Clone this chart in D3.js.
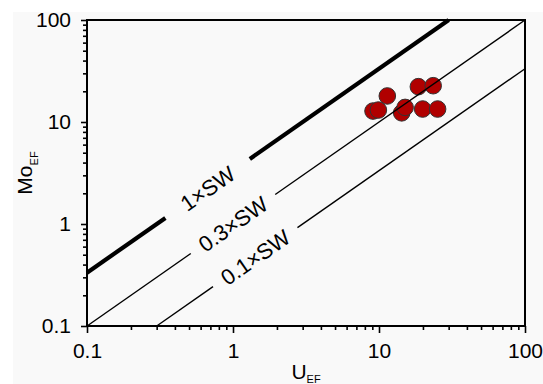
<!DOCTYPE html>
<html>
<head>
<meta charset="utf-8">
<script src="https://cdn.jsdelivr.net/npm/d3@7"></script>
<style>
  body { margin: 0; background: #fff; }
  svg { display: block; font-family: "Liberation Sans", Arial, sans-serif; }
</style>
</head>
<body>
<svg id="chart" width="543" height="384"></svg>
<script>
// ---------------- data ----------------
const uEF  = [9.1, 9.9, 11.4, 14.3, 15.1, 18.6, 23.5, 19.9, 25.2];
const moEF = [12.8, 13.1, 18.0, 12.3, 13.9, 22.2, 22.7, 13.4, 13.4];

// seawater Mo/U enrichment lines
const swRatio = 3.33;
const swNames = ["1×SW", "0.3×SW", "0.1×SW"];
const swFactors = [1, 0.3, 0.1];
const swLabelAt = [0.67, 1.0, 1.42];   // U_EF where the label sits

const tickValues = [0.1, 1, 10, 100];
const tickLabels = ["0.1", "1", "10", "100"];

// ---------------- layout ----------------
const svg = d3.select("#chart");
const m = { left: 87, right: 525, top: 20, bottom: 326 };

svg.append("rect")
  .attr("x", 13).attr("y", 12)
  .attr("width", 530).attr("height", 372)
  .attr("fill", "#f9f9f9");

const x = d3.scaleLog().domain([0.1, 100]).range([m.left, m.right]);
const y = d3.scaleLog().domain([0.1, 100]).range([m.bottom, m.top]);

// minor ticks (2..9 of each decade)
const minor = [];
for (const d of [0.1, 1, 10]) for (let k = 2; k <= 9; k++) minor.push(d * k);

const fmt = d => tickLabels[tickValues.indexOf(d)];

function styleAxis(g) {
  g.select(".domain").remove();
  g.selectAll("line").attr("stroke", "#000").attr("stroke-width", 1.6);
  g.selectAll("text").attr("font-size", 21).attr("fill", "#000");
}

svg.append("g").attr("transform", `translate(0,${m.bottom})`)
  .call(d3.axisBottom(x).tickValues(minor).tickSize(4).tickFormat(""))
  .call(styleAxis);
svg.append("g").attr("transform", `translate(0,${m.bottom})`)
  .call(d3.axisBottom(x).tickValues(tickValues).tickSize(7).tickPadding(10).tickFormat(fmt))
  .call(styleAxis);

svg.append("g").attr("transform", `translate(${m.left},0)`)
  .call(d3.axisLeft(y).tickValues(minor).tickSize(4).tickFormat(""))
  .call(styleAxis);
svg.append("g").attr("transform", `translate(${m.left},0)`)
  .call(d3.axisLeft(y).tickValues(tickValues).tickSize(6).tickPadding(10).tickFormat(fmt))
  .call(styleAxis);

// frame
svg.append("rect")
  .attr("x", m.left).attr("y", m.top)
  .attr("width", m.right - m.left).attr("height", m.bottom - m.top)
  .attr("fill", "none").attr("stroke", "#000").attr("stroke-width", 2);

// ---------------- points ----------------
svg.append("g")
  .selectAll("circle")
  .data(uEF.map((u, i) => [u, moEF[i]]))
  .join("circle")
  .attr("cx", d => x(d[0]))
  .attr("cy", d => y(d[1]))
  .attr("r", 8.3)
  .attr("fill", "#b00000")
  .attr("stroke", "#333")
  .attr("stroke-width", 1);

// ---------------- SW lines with label gaps ----------------
const angle = Math.atan2(y(10) - y(1), x(10) - x(1)) * 180 / Math.PI;
const gap = 103;

swFactors.forEach((f, i) => {
  const k = swRatio * f;
  const x0 = Math.max(0.1, 0.1 / k), x1 = Math.min(100, 100 / k);
  const p0 = [x(x0), y(x0 * k)], p1 = [x(x1), y(x1 * k)];
  const c = [x(swLabelAt[i]), y(swLabelAt[i] * k)];
  const len = Math.hypot(p1[0] - p0[0], p1[1] - p0[1]);
  const ux = (p1[0] - p0[0]) / len, uy = (p1[1] - p0[1]) / len;
  const a = [c[0] - ux * gap / 2, c[1] - uy * gap / 2];
  const b = [c[0] + ux * gap / 2, c[1] + uy * gap / 2];
  const w = f === 1 ? 4.2 : 1.4;

  [[p0, a], [b, p1]].forEach(seg => {
    svg.append("line")
      .attr("x1", seg[0][0]).attr("y1", seg[0][1])
      .attr("x2", seg[1][0]).attr("y2", seg[1][1])
      .attr("stroke", "#000").attr("stroke-width", w);
  });

  svg.append("text")
    .attr("transform", `translate(${c[0]},${c[1]}) rotate(${angle})`)
    .attr("text-anchor", "middle")
    .attr("dy", "0.36em")
    .attr("font-size", 22)
    .text(swNames[i]);
});

// ---------------- axis titles ----------------
const xt = svg.append("text")
  .attr("x", (m.left + m.right) / 2)
  .attr("y", 379)
  .attr("text-anchor", "middle")
  .attr("font-size", 21);
xt.append("tspan").text("U");
xt.append("tspan").attr("font-size", 11).attr("dy", 4).text("EF");

const yt = svg.append("text")
  .attr("transform", `translate(32,${(m.top + m.bottom) / 2}) rotate(-90)`)
  .attr("text-anchor", "middle")
  .attr("font-size", 21);
yt.append("tspan").text("Mo");
yt.append("tspan").attr("font-size", 11).attr("dy", 6).text("EF");
</script>
</body>
</html>
